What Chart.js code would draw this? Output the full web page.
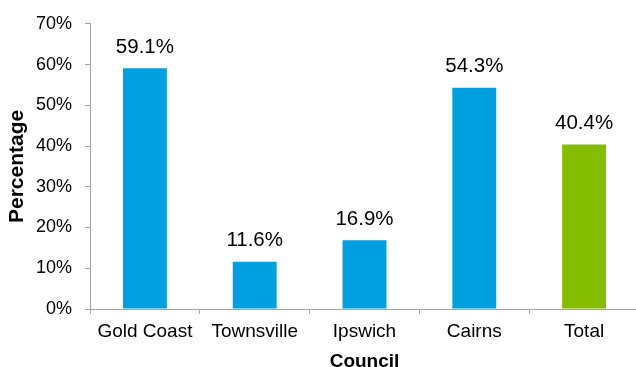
<!DOCTYPE html>
<html>
<head>
<meta charset="utf-8">
<script src="https://cdn.jsdelivr.net/npm/chart.js@4/dist/chart.umd.min.js"></script>
<style>
  html, body { margin: 0; padding: 0; background: #fff; overflow: hidden; }
  #wrap { width: 640px; height: 367px; }
</style>
</head>
<body>
<div id="wrap"><canvas id="c" width="640" height="367"></canvas></div>
<script>
const COUNCILS = ["Gold Coast", "Townsville", "Ipswich", "Cairns", "Total"];
const PERCENTAGES = [59.1, 11.6, 16.9, 54.3, 40.4];
const BAR_COLORS = ["#009fdf", "#009fdf", "#009fdf", "#009fdf", "#84bd00"];
const Y_MAX = 70;
const Y_STEP = 10;

const axisGray = "#a6a6a6";
const font = { family: "'Liberation Sans', Arial, sans-serif" };

// labels above each bar
const valueLabels = {
  id: "valueLabels",
  afterDatasetsDraw(chart) {
    const { ctx } = chart;
    const meta = chart.getDatasetMeta(0);
    ctx.save();
    ctx.font = "20.5px 'Liberation Sans', Arial, sans-serif";
    ctx.fillStyle = "#000";
    ctx.textAlign = "center";
    ctx.textBaseline = "middle";
    meta.data.forEach((bar, i) => {
      ctx.fillText(PERCENTAGES[i].toFixed(1) + "%", bar.x, bar.y - 21);
    });
    ctx.restore();
  },
};

new Chart(document.getElementById("c"), {
  type: "bar",
  data: {
    labels: COUNCILS,
    datasets: [{
      data: PERCENTAGES,
      backgroundColor: BAR_COLORS,
      borderWidth: 0,
      categoryPercentage: 1,
      barPercentage: 0.4,
    }],
  },
  options: {
    responsive: false,
    animation: false,
    layout: { padding: { left: 0, right: 1, top: 20, bottom: 0 } },
    plugins: { legend: { display: false }, tooltip: { enabled: false } },
    scales: {
      x: {
        afterFit: (s) => { s.height = 58; },
        grid: { offset: true, drawOnChartArea: false, drawTicks: true, tickLength: 5, color: axisGray },
        border: { display: true, color: axisGray, width: 1 },
        ticks: { color: "#000", padding: 6, font: { ...font, size: 19 }, maxRotation: 0, autoSkip: false },
        title: {
          display: true, text: "Council", color: "#000",
          font: { ...font, size: 19, weight: "bold", lineHeight: 1 },
          padding: { top: 0, bottom: -4 },
        },
      },
      y: {
        min: 0,
        max: Y_MAX,
        afterFit: (s) => { s.width = 90; },
        grid: { drawOnChartArea: false, drawTicks: true, tickLength: 5, color: axisGray },
        border: { display: true, color: axisGray, width: 1 },
        ticks: {
          stepSize: Y_STEP, color: "#000", padding: 13,
          font: { ...font, size: 18 },
          callback: (v) => v + "%",
        },
        title: {
          display: true, text: "Percentage", color: "#000",
          font: { ...font, size: 21, weight: "bold", lineHeight: 1.2 },
          padding: { top: 5, bottom: 0 },
        },
      },
    },
  },
  plugins: [valueLabels],
});
</script>
</body>
</html>
